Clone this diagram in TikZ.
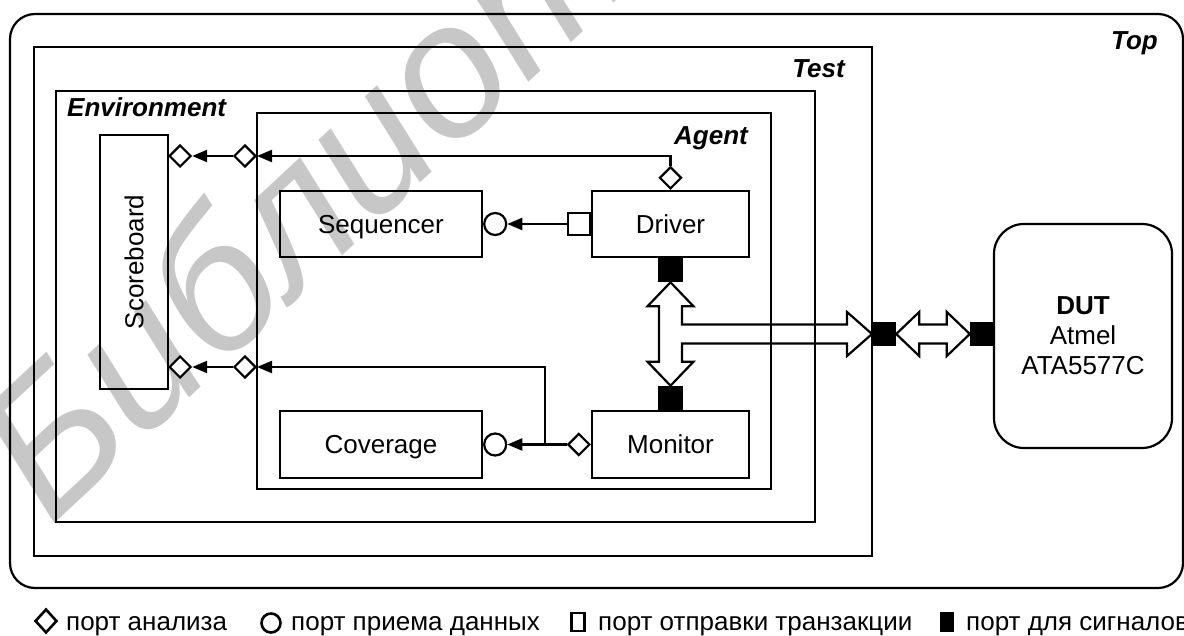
\documentclass[tikz,border=0pt]{standalone}
\usepackage{fontspec}
\setmainfont{Liberation Sans}
\usetikzlibrary{arrows.meta,shapes.geometric,calc}

\begin{document}
\begin{tikzpicture}[x=1pt,y=-1pt,
  lw/.style={line width=2.2pt},
  frame/.style={draw,lw},
  block/.style={draw,lw,font=\fontsize{26}{30}\selectfont,inner sep=0pt,
                text height=18.7pt,text depth=0pt},
  tag/.style={font=\fontsize{26}{30}\selectfont\bfseries\itshape,inner sep=0pt},
  aport/.style={diamond,draw,lw,fill=white,minimum width=22pt,minimum height=22pt,inner sep=0pt},
  rport/.style={circle,draw,lw,fill=white,minimum size=22pt,inner sep=0pt},
  tport/.style={rectangle,draw,lw,fill=white,minimum size=22pt,inner sep=0pt},
  sport/.style={rectangle,draw,lw,fill=black,minimum size=22pt,inner sep=0pt},
  flow/.style={lw,-{Triangle[length=15pt,width=12pt]}},
  bus/.style={draw,lw,line join=miter},
  legend/.style={font=\fontsize{26}{30}\selectfont,inner sep=0pt,anchor=base west},
  lsym/.style={draw,line width=2.6pt,inner sep=0pt}
]
\useasboundingbox (0,0) rectangle (1184,636);

% library stamp in the background
\begin{scope}
  \clip (0,0) rectangle (1184,636);
  \node[text=black!22,font=\fontsize{190}{190}\selectfont\itshape,
        anchor=base west,rotate=43,inner sep=0pt] (stamp) at (50,528) {Библиотека};
\end{scope}

% nested containers
\draw[frame,rounded corners=25pt] (10,14) rectangle (1183,588);
\draw[frame] (34,47) rectangle (872,556);
\draw[frame] (56,91) rectangle (815,522);
\draw[frame] (257,113) rectangle (771,489);

\node[tag,anchor=base east] (toplbl) at (1158,50) {Top};
\node[tag,anchor=base east] (testlbl) at (845,78) {Test};
\node[tag,anchor=base west] (envlbl) at (67,117) {Environment};
\node[tag,anchor=base east] (agentlbl) at (748,145) {Agent};

% components
\node[block,minimum width=254pt,minimum height=68pt,rotate=90] (sb) at (134,262) {Scoreboard};
\node[block,minimum width=202pt,minimum height=66pt] (seq) at (381,224) {Sequencer};
\node[block,minimum width=157pt,minimum height=66pt] (drv) at (670.5,224) {Driver};
\node[block,minimum width=202pt,minimum height=67pt] (cov) at (381,444.5) {Coverage};
\node[block,minimum width=157pt,minimum height=67pt] (mon) at (670.5,444.5) {Monitor};
\node[draw,lw,font=\fontsize{26}{30}\selectfont,inner sep=0pt,rounded corners=30pt,
      minimum width=178pt,minimum height=224pt,align=center] (dut)
  at (1083,336) {\textbf{DUT}\\Atmel\\ATA5577C};

% ports
\node[aport,anchor=south] (drvD) at (drv.north) {};
\node[aport,anchor=east] (agD1) at (257,156) {};
\node[aport,anchor=west] (sbD1) at (168,156) {};
\node[aport,anchor=east] (agD2) at (257,367) {};
\node[aport,anchor=west] (sbD2) at (168,367) {};
\node[aport,anchor=east] (monD) at (mon.west) {};
\node[rport,anchor=west] (seqC) at (seq.east) {};
\node[rport,anchor=west] (covC) at (cov.east) {};
\node[tport,anchor=east] (drvS) at (drv.west) {};
\node[sport,anchor=north] (drvB) at (drv.south) {};
\node[sport,anchor=south] (monB) at (mon.north) {};
\node[sport,anchor=west] (tstB) at (872,334) {};
\node[sport,anchor=east] (dutB) at (994,334) {};

% transaction-level connections
\draw[flow] (drvD.north) |- (agD1.east);
\draw[flow] (agD1.west) -- (sbD1.east);
\draw[flow] (drvS.west) -- (seqC.east);
\draw[flow] (monD.west) -- (covC.east);
\coordinate (tap) at ($(monD.west)+(-22,0)$);
\draw[flow] (tap) |- (agD2.east);
\draw[flow] (agD2.west) -- (sbD2.east);

% signal bus: Driver <-> Monitor with branch to the test boundary
\path[bus] (drvB.south) -- ++(23,24) -- ++(-11.5,0)
  |- ($(tstB.west)+(-25,-9.5)$) -- ++(0,-12.5) -- (tstB.west) -- ++(-25,22) -- ++(0,-12.5)
  -| ($(monB.north)+(11.5,-24)$) -- ++(11.5,0) -- (monB.north) -- ++(-23,-24) -- ++(11.5,0)
  -- ($(drvB.south)+(-11.5,24)$) -- ++(-11.5,0) -- cycle;

% signal bus to the DUT
\path[bus] (tstB.east) -- ++(23,-22) -- ++(0,12.5) -- ($(dutB.west)+(-23,-9.5)$) -- ++(0,-12.5)
  -- (dutB.west) -- ++(-23,22) -- ++(0,-12.5) -- ($(tstB.east)+(23,9.5)$) -- ++(0,12.5) -- cycle;

% legend
\node[lsym,diamond,minimum width=22pt,minimum height=24pt] (lgA) at (46,621) {};
\node[legend] (lgAt) at (66,630) {порт анализа};
\node[lsym,circle,minimum size=19pt] (lgR) at (271,623) {};
\node[legend] (lgRt) at (291,630) {порт приема данных};
\node[lsym,rectangle,minimum width=13pt,minimum height=18pt] (lgT) at (578,622) {};
\node[legend] (lgTt) at (598,630) {порт отправки транзакции};
\node[draw,fill=black,line width=1pt,inner sep=0pt,minimum width=13pt,minimum height=19pt] (lgS) at (947,622) {};
\node[legend] (lgSt) at (966,630) {порт для сигналов};
\end{tikzpicture}
\end{document}
